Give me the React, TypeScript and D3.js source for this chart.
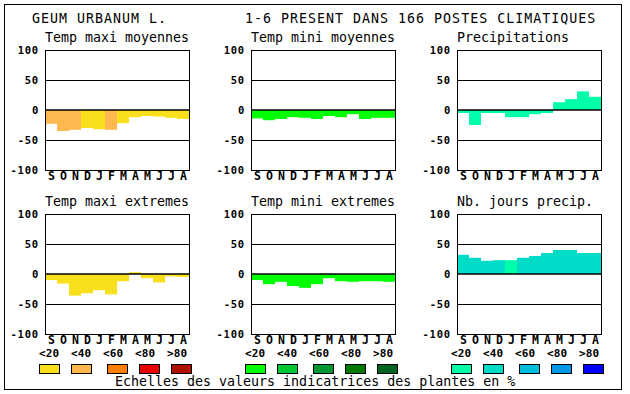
import React from "react";
import * as d3 from "d3";

const months = ["S", "O", "N", "D", "J", "F", "M", "A", "M", "J", "J", "A"];
const yTicks = [100, 50, 0, -50, -100];
const legendLabels = ["<20", "<40", "<60", "<80", ">80"];

const tmaxMoy = [-23, -35, -33, -30, -32, -33, -22, -12, -10, -11, -13, -15];
const tmaxMoyClass = [1, 1, 1, 0, 0, 1, 0, 0, 0, 0, 0, 0];
const tminMoy = [-14, -17, -15, -12, -13, -15, -10, -12, -7, -15, -13, -13];
const precip = [-5, -25, -5, -5, -12, -12, -7, -5, 13, 18, 31, 22];
const tmaxExt = [-10, -16, -36, -32, -27, -34, -12, 3, -7, -14, -4, -5];
const tminExt = [-10, -17, -13, -20, -23, -17, -7, -12, -13, -12, -12, -13];
const nbJours = [32, 27, 22, 23, 23, 27, 30, 35, 40, 40, 35, 35];
const nbJoursClass = [1, 1, 1, 1, 0, 1, 1, 1, 1, 1, 1, 1];

const warm = ["#f8e11c", "#ffb850", "#ff8000", "#e80000", "#b01000"];
const green = ["#00ff00", "#00c832", "#009632", "#007800", "#006420"];
const blue = ["#00ffaa", "#00dcc8", "#00bedc", "#0096e6", "#0000ff"];

const zeros = months.map(() => 0);

const panels = [
  { title: "Temp maxi moyennes", values: tmaxMoy, cls: tmaxMoyClass, pal: warm, col: 0, row: 0 },
  { title: "Temp mini moyennes", values: tminMoy, cls: zeros, pal: green, col: 1, row: 0 },
  { title: "Precipitations", values: precip, cls: zeros, pal: blue, col: 2, row: 0 },
  { title: "Temp maxi extremes", values: tmaxExt, cls: zeros, pal: warm, col: 0, row: 1 },
  { title: "Temp mini extremes", values: tminExt, cls: zeros, pal: green, col: 1, row: 1 },
  { title: "Nb. jours precip.", values: nbJours, cls: nbJoursClass, pal: blue, col: 2, row: 1 },
];

const mono = "'DejaVu Sans Mono', monospace";
const boxOffsets = [0, 32, 68, 100, 132];

function Panel({ p }) {
  const left = 45 + 206 * p.col;
  const top = 50 + 164 * p.row;
  const x = d3.scaleBand().domain(d3.range(12).map(String)).range([left, left + 144]).padding(0);
  const y = d3.scaleLinear().domain([-100, 100]).range([top + 120, top]);
  return (
    <g>
      <text x={left} y={top - 8} fontFamily={mono} fontSize={13.3}>{p.title}</text>
      {p.values.map((v, i) => (
        <rect key={i} x={x(String(i))} width={x.bandwidth()} y={y(Math.max(0, v))}
          height={Math.abs(y(v) - y(0))} fill={p.pal[p.cls[i]]} />
      ))}
      {[50, -50].map(t => (
        <line key={t} x1={left} x2={left + 144} y1={y(t) + 0.5} y2={y(t) + 0.5} stroke="#000" shapeRendering="crispEdges" />
      ))}
      <line x1={left} x2={left + 144} y1={y(0)} y2={y(0)} stroke="#000" strokeWidth={1.6} />
      <rect x={left + 0.5} y={top + 0.5} width={144} height={120} fill="none" stroke="#000" shapeRendering="crispEdges" />
      {yTicks.map(t => (
        <text key={t} x={left - 6} y={y(t) + 4} textAnchor="end" fontFamily={mono} fontWeight="bold"
          fontSize={10.5} letterSpacing={0.8}>{t}</text>
      ))}
      {months.map((m, i) => (
        <text key={i} x={x(String(i)) + 6.5} y={top + 130} textAnchor="middle" fontFamily={mono}
          fontWeight="bold" fontSize={11.5}>{m}</text>
      ))}
      {p.row === 1 && legendLabels.map((l, k) => (
        <g key={k}>
          <text x={39 + 206 * p.col + 32 * k} y={357} fontFamily={mono} fontWeight="bold" fontSize={11}
            letterSpacing={0.1}>{l}</text>
          <rect x={39.5 + 206 * p.col + boxOffsets[k]} y={364.5} width={20} height={9} fill={p.pal[k]}
            stroke="#000" shapeRendering="crispEdges" />
        </g>
      ))}
    </g>
  );
}

export default function App() {
  return (
    <svg width={630} height={394} style={{ position: "absolute", left: 0, top: 0, background: "#fff" }}>
      <rect x={4.5} y={4.5} width={617} height={385} fill="#fff" stroke="#000" shapeRendering="crispEdges" />
      <text x={32} y={23} fontFamily={mono} fontSize={13.3} letterSpacing={1}>GEUM URBANUM L.</text>
      <text x={245} y={23} fontFamily={mono} fontSize={13.3} letterSpacing={1}>1-6 PRESENT DANS 166 POSTES CLIMATIQUES</text>
      {panels.map((p, i) => <Panel key={i} p={p} />)}
      <text x={115} y={386} fontFamily={mono} fontSize={13.3}>Echelles des valeurs indicatrices des plantes en %</text>
    </svg>
  );
}
